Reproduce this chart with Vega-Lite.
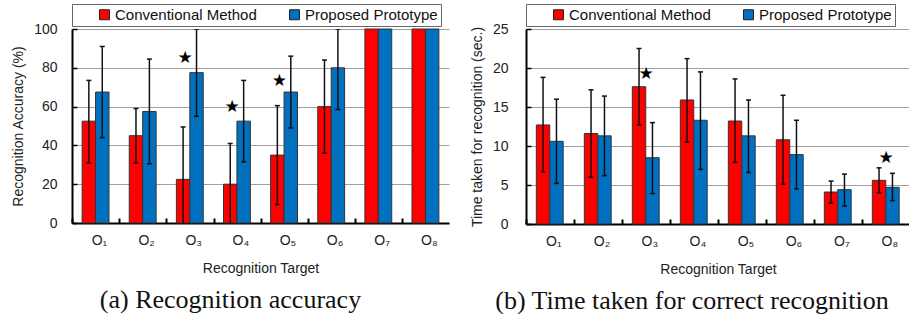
{
  "$schema": "https://vega.github.io/schema/vega-lite/v6.json",
  "padding": {"left": 11, "top": 3, "right": 0, "bottom": 0},
  "background": "white",
  "datasets": {
    "acc": [
      {"target": "O₁", "method": "Conventional Method", "value": 52.5, "lo": 31, "hi": 73.5},
      {"target": "O₁", "method": "Proposed Prototype", "value": 67.5, "lo": 44, "hi": 91},
      {"target": "O₂", "method": "Conventional Method", "value": 45, "lo": 31, "hi": 59},
      {"target": "O₂", "method": "Proposed Prototype", "value": 57.5, "lo": 30.5, "hi": 84.5},
      {"target": "O₃", "method": "Conventional Method", "value": 22.5, "lo": -4.5, "hi": 49.5},
      {"target": "O₃", "method": "Proposed Prototype", "value": 77.5, "lo": 55, "hi": 100},
      {"target": "O₄", "method": "Conventional Method", "value": 20, "lo": -1, "hi": 41},
      {"target": "O₄", "method": "Proposed Prototype", "value": 52.5, "lo": 31.5, "hi": 73.5},
      {"target": "O₅", "method": "Conventional Method", "value": 35, "lo": 9.5, "hi": 60.5},
      {"target": "O₅", "method": "Proposed Prototype", "value": 67.5, "lo": 49, "hi": 86},
      {"target": "O₆", "method": "Conventional Method", "value": 60, "lo": 36, "hi": 84},
      {"target": "O₆", "method": "Proposed Prototype", "value": 80, "lo": 58.5, "hi": 100},
      {"target": "O₇", "method": "Conventional Method", "value": 100, "lo": null, "hi": null},
      {"target": "O₇", "method": "Proposed Prototype", "value": 100, "lo": null, "hi": null},
      {"target": "O₈", "method": "Conventional Method", "value": 100, "lo": null, "hi": null},
      {"target": "O₈", "method": "Proposed Prototype", "value": 100, "lo": null, "hi": null}
    ],
    "time": [
      {"target": "O₁", "method": "Conventional Method", "value": 12.7, "lo": 6.7, "hi": 18.8},
      {"target": "O₁", "method": "Proposed Prototype", "value": 10.6, "lo": 5.2, "hi": 16.0},
      {"target": "O₂", "method": "Conventional Method", "value": 11.6, "lo": 6.0, "hi": 17.2},
      {"target": "O₂", "method": "Proposed Prototype", "value": 11.3, "lo": 6.2, "hi": 16.4},
      {"target": "O₃", "method": "Conventional Method", "value": 17.6, "lo": 12.7, "hi": 22.5},
      {"target": "O₃", "method": "Proposed Prototype", "value": 8.5, "lo": 3.9, "hi": 13.0},
      {"target": "O₄", "method": "Conventional Method", "value": 15.9, "lo": 10.5, "hi": 21.2},
      {"target": "O₄", "method": "Proposed Prototype", "value": 13.3, "lo": 7.0, "hi": 19.5},
      {"target": "O₅", "method": "Conventional Method", "value": 13.2, "lo": 7.9, "hi": 18.6},
      {"target": "O₅", "method": "Proposed Prototype", "value": 11.3, "lo": 6.6, "hi": 15.9},
      {"target": "O₆", "method": "Conventional Method", "value": 10.8, "lo": 5.1, "hi": 16.5},
      {"target": "O₆", "method": "Proposed Prototype", "value": 8.9, "lo": 4.5, "hi": 13.3},
      {"target": "O₇", "method": "Conventional Method", "value": 4.1, "lo": 2.7, "hi": 5.5},
      {"target": "O₇", "method": "Proposed Prototype", "value": 4.4, "lo": 2.3, "hi": 6.4},
      {"target": "O₈", "method": "Conventional Method", "value": 5.6, "lo": 4.0, "hi": 7.2},
      {"target": "O₈", "method": "Proposed Prototype", "value": 4.7, "lo": 3.0, "hi": 6.5}
    ],
    "accStars": [
      {"target": "O₃", "method": "Conventional Method", "y": 85},
      {"target": "O₄", "method": "Conventional Method", "y": 60},
      {"target": "O₅", "method": "Conventional Method", "y": 73}
    ],
    "timeStars": [
      {"target": "O₃", "y": 19.2},
      {"target": "O₈", "y": 8.4}
    ]
  },
  "hconcat": [
    {
      "width": 377,
      "height": 194,
      "title": {"text": "(a) Recognition accuracy", "dx": -30},
      "layer": [
        {
          "data": {"name": "acc"},
          "mark": {"type": "bar", "stroke": "#333333", "strokeWidth": 1},
          "encoding": {
            "x": {"field": "target", "type": "nominal", "title": "Recognition Target",
                  "scale": {"paddingInner": 0.43, "paddingOuter": 0.215},
                  "axis": {"bandPosition": 0, "tickOffset": -10, "labelOffset": 13.4}},
            "xOffset": {"field": "method", "type": "nominal", "scale": {"paddingInner": 0, "paddingOuter": 0}},
            "y": {"field": "value", "type": "quantitative", "title": "Recognition Accuracy (%)",
                  "scale": {"domain": [0, 100], "nice": false},
                  "axis": {"values": [0, 20, 40, 60, 80, 100], "tickCount": 10}},
            "color": {"field": "method", "type": "nominal",
                      "scale": {"domain": ["Conventional Method", "Proposed Prototype"], "range": ["#FF0000", "#0070C0"]},
                      "legend": {"orient": "none", "legendX": 0, "legendY": -25,
                                 "labelExpr": "datum.label == 'Proposed Prototype' ? datum.label + '\u00a0\u00a0\u00a0\u00a0' : datum.label"}}
          }
        },
        {
          "data": {"name": "acc"},
          "mark": {"type": "rule", "strokeWidth": 1.5, "color": "#111111", "clip": true},
          "encoding": {
            "x": {"field": "target", "type": "nominal"},
            "xOffset": {"field": "method", "type": "nominal"},
            "y": {"field": "lo", "type": "quantitative"},
            "y2": {"field": "hi"}
          }
        },
        {
          "data": {"name": "acc"},
          "mark": {"type": "tick", "orient": "horizontal", "size": 5, "thickness": 1.5, "color": "#111111", "clip": true, "opacity": 1},
          "encoding": {
            "x": {"field": "target", "type": "nominal"},
            "xOffset": {"field": "method", "type": "nominal"},
            "y": {"field": "lo", "type": "quantitative"}
          }
        },
        {
          "data": {"name": "acc"},
          "mark": {"type": "tick", "orient": "horizontal", "size": 5, "thickness": 1.5, "color": "#111111", "clip": true, "opacity": 1},
          "encoding": {
            "x": {"field": "target", "type": "nominal"},
            "xOffset": {"field": "method", "type": "nominal"},
            "y": {"field": "hi", "type": "quantitative"}
          }
        },
        {
          "data": {"name": "accStars"},
          "mark": {"type": "text", "text": "★", "fontSize": 17, "font": "DejaVu Sans", "color": "#000000", "baseline": "middle", "align": "center", "dx": 2},
          "encoding": {
            "x": {"field": "target", "type": "nominal"},
            "xOffset": {"field": "method", "type": "nominal"},
            "y": {"field": "y", "type": "quantitative"}
          }
        }
      ]
    },
    {
      "width": 384,
      "height": 195,
      "title": {"text": "(b) Time taken for correct recognition", "dx": -26},
      "layer": [
        {
          "data": {"name": "time"},
          "mark": {"type": "bar", "stroke": "#333333", "strokeWidth": 1},
          "encoding": {
            "x": {"field": "target", "type": "nominal", "title": "Recognition Target",
                  "scale": {"paddingInner": 0.43, "paddingOuter": 0.215},
                  "axis": {"bandPosition": 0, "tickOffset": -10.3, "labelOffset": 13.7}},
            "xOffset": {"field": "method", "type": "nominal", "scale": {"paddingInner": 0, "paddingOuter": 0}},
            "y": {"field": "value", "type": "quantitative", "title": "Time taken for recognition (sec.)",
                  "scale": {"domain": [0, 25], "nice": false},
                  "axis": {"values": [0, 5, 10, 15, 20, 25], "tickCount": 10, "labelPadding": 23}},
            "color": {"field": "method", "type": "nominal",
                      "scale": {"domain": ["Conventional Method", "Proposed Prototype"], "range": ["#FF0000", "#0070C0"]},
                      "legend": {"orient": "none", "legendX": 0, "legendY": -25,
                                 "labelExpr": "datum.label == 'Proposed Prototype' ? datum.label + '\u00a0\u00a0\u00a0\u00a0\u00a0\u00a0\u00a0\u00a0' : datum.label"}}
          }
        },
        {
          "data": {"name": "time"},
          "mark": {"type": "rule", "strokeWidth": 1.5, "color": "#111111", "clip": true},
          "encoding": {
            "x": {"field": "target", "type": "nominal"},
            "xOffset": {"field": "method", "type": "nominal"},
            "y": {"field": "lo", "type": "quantitative"},
            "y2": {"field": "hi"}
          }
        },
        {
          "data": {"name": "time"},
          "mark": {"type": "tick", "orient": "horizontal", "size": 5, "thickness": 1.5, "color": "#111111", "clip": true, "opacity": 1},
          "encoding": {
            "x": {"field": "target", "type": "nominal"},
            "xOffset": {"field": "method", "type": "nominal"},
            "y": {"field": "lo", "type": "quantitative"}
          }
        },
        {
          "data": {"name": "time"},
          "mark": {"type": "tick", "orient": "horizontal", "size": 5, "thickness": 1.5, "color": "#111111", "clip": true, "opacity": 1},
          "encoding": {
            "x": {"field": "target", "type": "nominal"},
            "xOffset": {"field": "method", "type": "nominal"},
            "y": {"field": "hi", "type": "quantitative"}
          }
        },
        {
          "data": {"name": "timeStars"},
          "mark": {"type": "text", "text": "★", "fontSize": 17, "font": "DejaVu Sans", "color": "#000000", "baseline": "middle", "align": "center"},
          "encoding": {
            "x": {"field": "target", "type": "nominal"},
            "y": {"field": "y", "type": "quantitative"}
          }
        }
      ]
    }
  ],
  "spacing": 21,
  "resolve": {"scale": {"color": "independent"}, "legend": {"color": "independent"}},
  "config": {
    "view": {"stroke": null},
    "font": "Liberation Sans",
    "title": {"orient": "bottom", "anchor": "middle", "font": "Liberation Serif", "fontSize": 26, "fontWeight": "normal", "color": "#111111", "offset": 12},
    "axis": {
      "labelFont": "Liberation Sans", "labelFontSize": 14, "labelColor": "#222222",
      "titleFont": "Liberation Sans", "titleFontSize": 14, "titleFontWeight": "normal", "titleColor": "#222222",
      "domainColor": "#000000", "domainWidth": 2,
      "tickColor": "#000000", "tickWidth": 1.5, "tickSize": -5
    },
    "axisY": {"grid": true, "gridColor": "#a0a0a0", "gridWidth": 1, "labelPadding": 20, "titlePadding": 8},
    "axisX": {"grid": false, "labelAngle": 0, "tickWidth": 2, "labelPadding": 15, "titlePadding": 14},
    "legend": {
      "direction": "horizontal", "title": null, "strokeColor": "#666666", "padding": 3,
      "symbolType": "square", "symbolSize": 100, "symbolStrokeColor": "#222222", "symbolStrokeWidth": 1, "symbolOpacity": 1,
      "symbolOffset": 22, "labelOffset": 3, "columnPadding": 8,
      "labelFont": "Liberation Sans", "labelFontSize": 15, "labelColor": "#111111"
    }
  }
}
